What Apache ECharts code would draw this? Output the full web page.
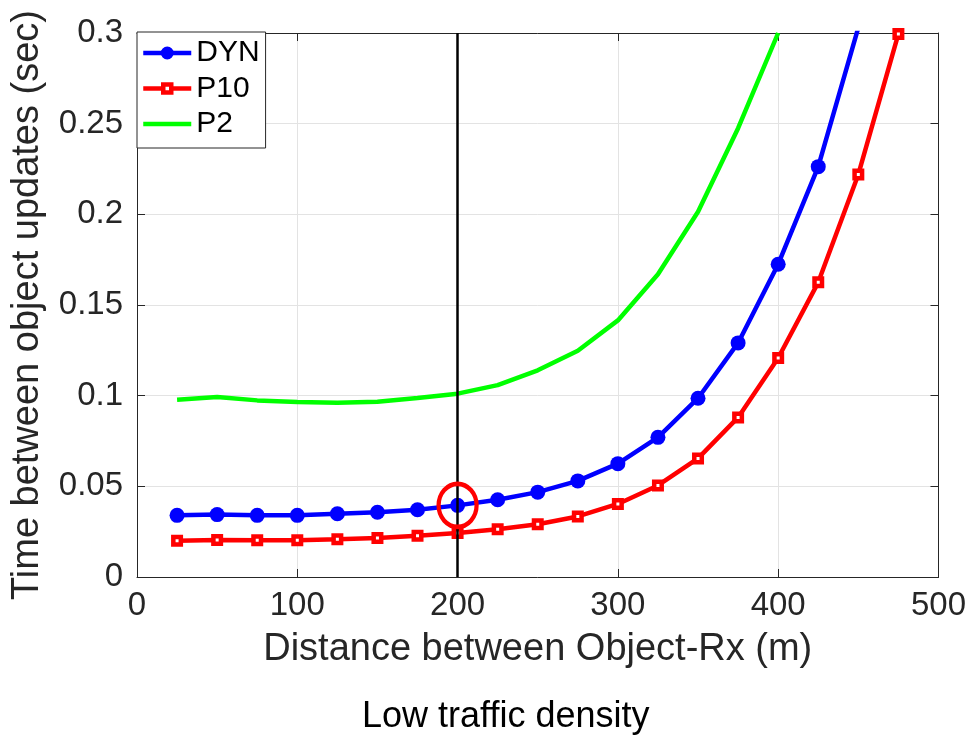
<!DOCTYPE html>
<html>
<head>
<meta charset="utf-8">
<script src="https://cdn.jsdelivr.net/npm/echarts@6/dist/echarts.min.js"></script>
<style>
html,body{margin:0;padding:0;background:#fff;}
#chart{width:969px;height:737px;}
</style>
</head>
<body>
<div id="chart"></div>
<script>
// ---- data ----
const distances = [25, 50, 75, 100, 125, 150, 175, 200, 225, 250, 275, 300, 325, 350, 375, 400, 425, 450, 475];
const dynValues = [0.0340, 0.0344, 0.0340, 0.0340, 0.0349, 0.0357, 0.0371, 0.0395, 0.0426, 0.0468, 0.0530, 0.0625, 0.0770, 0.0986, 0.1291, 0.1725, 0.2263, 0.303];
const p10Values = [0.0200, 0.0204, 0.0202, 0.0202, 0.0208, 0.0215, 0.0228, 0.0243, 0.0263, 0.0291, 0.0334, 0.0403, 0.0505, 0.0654, 0.0880, 0.1208, 0.1625, 0.222, 0.2995];
const p2Values = [0.0978, 0.0993, 0.0974, 0.0965, 0.0961, 0.0967, 0.0987, 0.1011, 0.1058, 0.1140, 0.1248, 0.1415, 0.1670, 0.2014, 0.2475, 0.300];
const seriesNames = ['DYN', 'P10', 'P2'];
const xTicks = [0, 100, 200, 300, 400, 500];
const yTicks = [0, 0.05, 0.1, 0.15, 0.2, 0.25, 0.3];
const markerDistance = 200;
const xAxisTitle = 'Distance between Object-Rx (m)';
const yAxisTitle = 'Time between object updates (sec)';
const caption = 'Low traffic density';

const pairs = (vals) => vals.map((v, i) => [distances[i], v]);
const FONT = "'Liberation Sans', Arial, Helvetica, sans-serif";
const AX = '#262626';

const chart = echarts.init(document.getElementById('chart'), null, {renderer: 'canvas'});

const baseX = {
  type: 'value', min: xTicks[0], max: xTicks[xTicks.length - 1], interval: 100,
  axisLine: {show: true, onZero: false, lineStyle: {color: AX, width: 1}},
  axisTick: {show: true, inside: true, length: 8, lineStyle: {color: AX, width: 1}}
};
const baseY = {
  type: 'value', min: yTicks[0], max: yTicks[yTicks.length - 1], interval: 0.05,
  axisLine: {show: true, onZero: false, lineStyle: {color: AX, width: 1}},
  axisTick: {show: true, inside: true, length: 8, lineStyle: {color: AX, width: 1}}
};

const dynAt = dynValues[distances.indexOf(markerDistance)];

chart.setOption({
  animation: false,
  backgroundColor: '#ffffff',
  textStyle: {fontFamily: FONT},
  grid: {left: 137, right: 30, top: 33, bottom: 160, containLabel: false},
  legend: {
    show: true,
    data: [
      {name: seriesNames[0], itemStyle: {color: '#0000ff', borderColor: '#0000ff', borderWidth: 5}},
      {name: seriesNames[1], itemStyle: {color: '#ffffff', borderColor: '#ff0000', borderWidth: 4.5}},
      {name: seriesNames[2], itemStyle: {color: 'rgba(0,0,0,0)', borderColor: 'rgba(0,0,0,0)', borderWidth: 0, opacity: 0}}
    ],
    orient: 'vertical',
    left: 137, top: 32,
    padding: [6, 6, 9, 4],
    itemGap: 5.5,
    itemWidth: 48,
    itemHeight: 10,
    backgroundColor: '#ffffff',
    borderColor: AX,
    borderWidth: 1,
    lineStyle: {width: 4.5},
    textStyle: {fontFamily: FONT, fontSize: 30, color: '#000', lineHeight: 30},
    selectedMode: false
  },
  xAxis: [
    Object.assign({}, baseX, {
      position: 'bottom',
      name: xAxisTitle, nameLocation: 'middle', nameGap: 54,
      nameTextStyle: {fontFamily: FONT, fontSize: 38, color: AX},
      axisLabel: {show: true, margin: 12, fontFamily: FONT, fontSize: 33, color: AX},
      splitLine: {show: true, lineStyle: {color: '#e3e3e3', width: 1}}
    }),
    Object.assign({}, baseX, {
      position: 'top',
      axisLabel: {show: false},
      splitLine: {show: false}
    })
  ],
  yAxis: [
    Object.assign({}, baseY, {
      position: 'left',
      name: yAxisTitle, nameLocation: 'middle', nameGap: 90, nameRotate: 90,
      nameTextStyle: {fontFamily: FONT, fontSize: 38, color: AX},
      axisLabel: {show: true, margin: 14, fontFamily: FONT, fontSize: 33, color: AX},
      splitLine: {show: true, lineStyle: {color: '#e3e3e3', width: 1}}
    }),
    Object.assign({}, baseY, {
      position: 'right',
      axisLabel: {show: false},
      splitLine: {show: false}
    })
  ],
  graphic: [{
    type: 'text',
    left: 362, top: 699,
    style: {text: caption, fontFamily: FONT, fontSize: 36, fill: '#000'}
  }],
  series: [
    {
      name: 'DYN', type: 'line', xAxisIndex: 0, yAxisIndex: 0,
      data: pairs(dynValues),
      clip: true,
      symbol: 'circle', symbolSize: 15, showAllSymbol: true,
      lineStyle: {color: '#0000ff', width: 4.5},
      itemStyle: {color: '#0000ff', borderWidth: 0},
      z: 2
    },
    {
      name: 'P10', type: 'line', xAxisIndex: 0, yAxisIndex: 0,
      data: pairs(p10Values),
      clip: true,
      symbol: 'rect', symbolSize: 7.5, showAllSymbol: true,
      lineStyle: {color: '#ff0000', width: 4.5},
      itemStyle: {color: '#ffffff', borderColor: '#ff0000', borderWidth: 4.5},
      z: 3
    },
    {
      name: 'P2', type: 'line', xAxisIndex: 0, yAxisIndex: 0,
      data: pairs(p2Values),
      clip: true,
      symbol: 'none', showSymbol: false,
      lineStyle: {color: '#00ff00', width: 4.5},
      itemStyle: {color: '#00ff00'},
      z: 4,
      markLine: {
        silent: true, symbol: ['none', 'none'], animation: false,
        label: {show: false},
        lineStyle: {color: '#000000', width: 2.5, type: 'solid'},
        data: [{xAxis: markerDistance}]
      },
      markPoint: {
        silent: true, animation: false,
        symbol: 'path://M0,-1 A1,1 0 1,1 0,1 A1,1 0 1,1 0,-1 Z',
        symbolSize: [38, 43],
        symbolKeepAspect: false,
        label: {show: false},
        itemStyle: {color: 'rgba(0,0,0,0)', borderColor: '#ff0000', borderWidth: 4.5},
        data: [{coord: [markerDistance, dynAt]}]
      }
    }
  ]
});
</script>
</body>
</html>
